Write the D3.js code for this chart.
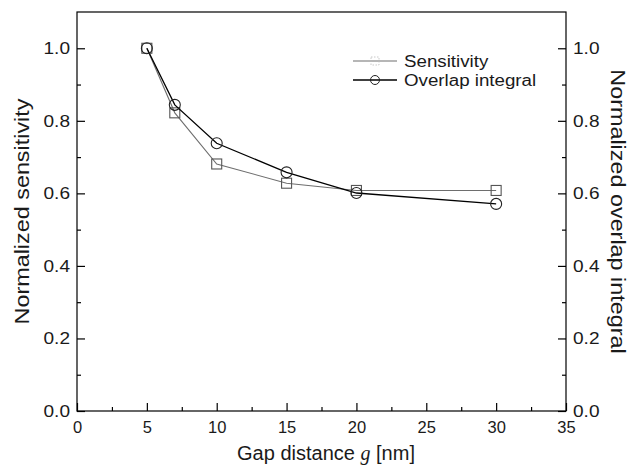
<!DOCTYPE html>
<html>
<head>
<meta charset="utf-8">
<script src="https://cdn.jsdelivr.net/npm/d3@7"></script>
<style>
  body { margin: 0; background: #fff; }
  text { font-family: "Liberation Sans", Arial, sans-serif; fill: #1a1a1a; }
</style>
</head>
<body>
<div id="chart"></div>
<script>
// data
const gaps = [5, 7, 10, 15, 20, 30];
const sensitivity = [1.0, 0.822, 0.681, 0.628, 0.608, 0.608];
const overlap = [1.0, 0.844, 0.738, 0.658, 0.601, 0.571];
const xTicks = [0, 5, 10, 15, 20, 25, 30, 35];
const yTicks = [0.0, 0.2, 0.4, 0.6, 0.8, 1.0];
const seriesNames = ["Sensitivity", "Overlap integral"];

const width = 631, height = 466;
const margin = { top: 12, right: 65, bottom: 55, left: 77 };

const svg = d3.select("#chart").append("svg")
  .attr("width", width)
  .attr("height", height);

const x = d3.scaleLinear().domain([0, 35]).range([margin.left, width - margin.right]);
const y = d3.scaleLinear().domain([0, 1.1]).range([height - margin.bottom, margin.top]);

const plotH = height - margin.bottom - margin.top;
const plotW = width - margin.right - margin.left;

// the original font is a bit wider than Arial, stretch text to fit
function stretch(sel, k) {
  sel.each(function () {
    const len = this.getComputedTextLength();
    d3.select(this).attr("textLength", len * k).attr("lengthAdjust", "spacingAndGlyphs");
  });
}

// frame
svg.append("rect")
  .attr("x", margin.left).attr("y", margin.top)
  .attr("width", plotW).attr("height", plotH)
  .attr("fill", "none").attr("stroke", "#000").attr("stroke-width", 1.2);

function styleAxis(size) {
  return g => {
    g.select(".domain").remove();
    g.selectAll("line").attr("stroke", "#000").attr("stroke-width", 1.2);
    g.selectAll("text")
      .style("font-size", size + "px")
      .style("font-family", "'Liberation Sans', Arial, sans-serif");
  };
}

// minor ticks
const xMinor = d3.range(2.5, 35, 5);
const yMinor = d3.range(0.1, 1.1, 0.2);

// bottom axis, ticks inward
svg.append("g")
  .attr("transform", `translate(0,${height - margin.bottom})`)
  .call(d3.axisBottom(x).tickValues(xMinor).tickSize(-4).tickFormat(""))
  .call(styleAxis(16.5));
svg.append("g")
  .attr("transform", `translate(0,${height - margin.bottom})`)
  .call(d3.axisBottom(x).tickValues(xTicks).tickSize(-8).tickPadding(10.5).tickFormat(d3.format("d")))
  .call(styleAxis(16.5));

// left axis
svg.append("g")
  .attr("transform", `translate(${margin.left},0)`)
  .call(d3.axisLeft(y).tickValues(yMinor).tickSize(-4).tickFormat(""))
  .call(styleAxis(17));
const yLeft = svg.append("g")
  .attr("transform", `translate(${margin.left},0)`)
  .call(d3.axisLeft(y).tickValues(yTicks).tickSize(-8).tickPadding(7).tickFormat(d3.format(".1f")))
  .call(styleAxis(17));
stretch(yLeft.selectAll("text"), 1.12);

// right axis
svg.append("g")
  .attr("transform", `translate(${width - margin.right},0)`)
  .call(d3.axisRight(y).tickValues(yMinor).tickSize(-4).tickFormat(""))
  .call(styleAxis(17));
const yRight = svg.append("g")
  .attr("transform", `translate(${width - margin.right},0)`)
  .call(d3.axisRight(y).tickValues(yTicks).tickSize(-8).tickPadding(7).tickFormat(d3.format(".1f")))
  .call(styleAxis(17));
stretch(yRight.selectAll("text"), 1.12);

// axis titles
const xTitle = svg.append("text")
  .attr("x", 326)
  .attr("y", 460)
  .attr("text-anchor", "middle")
  .style("font-size", "20px");
xTitle.append("tspan").text("Gap distance ");
xTitle.append("tspan").text("g")
  .style("font-family", "'Liberation Serif', 'Times New Roman', serif")
  .style("font-style", "italic");
xTitle.append("tspan").text(" [nm]");

const leftTitle = svg.append("text")
  .attr("transform", `translate(29,${margin.top + plotH / 2}) rotate(-90)`)
  .attr("text-anchor", "middle")
  .style("font-size", "20.5px")
  .text("Normalized sensitivity");
stretch(leftTitle, 1.14);

const rightTitle = svg.append("text")
  .attr("transform", `translate(611,${margin.top + plotH / 2}) rotate(90)`)
  .attr("text-anchor", "middle")
  .style("font-size", "20.5px")
  .text("Normalized overlap integral");
stretch(rightTitle, 1.14);

const sensData = gaps.map((g, i) => ({ g, v: sensitivity[i] }));
const overData = gaps.map((g, i) => ({ g, v: overlap[i] }));

const line = d3.line().x(d => x(d.g)).y(d => y(d.v));

// sensitivity: grey line + squares
svg.append("path").datum(sensData)
  .attr("fill", "none").attr("stroke", "#6e6e6e").attr("stroke-width", 1.1)
  .attr("d", line);
svg.append("g").selectAll("rect").data(sensData).enter().append("rect")
  .attr("x", d => x(d.g) - 5).attr("y", d => y(d.v) - 5)
  .attr("width", 10).attr("height", 10)
  .attr("fill", "none").attr("stroke", "#555").attr("stroke-width", 1.1);

// overlap: black line + circles
svg.append("path").datum(overData)
  .attr("fill", "none").attr("stroke", "#000").attr("stroke-width", 1.3)
  .attr("d", line);
svg.append("g").selectAll("circle").data(overData).enter().append("circle")
  .attr("cx", d => x(d.g)).attr("cy", d => y(d.v)).attr("r", 5.5)
  .attr("fill", "none").attr("stroke", "#222").attr("stroke-width", 1.1);

// legend
const legend = svg.append("g");
const lx0 = 353, lx1 = 397, ly = [61, 80];
legend.append("line")
  .attr("x1", lx0).attr("x2", lx1).attr("y1", ly[0]).attr("y2", ly[0])
  .attr("stroke", "#6e6e6e").attr("stroke-width", 1.1);
legend.append("rect")
  .attr("x", (lx0 + lx1) / 2 - 4).attr("y", ly[0] - 4)
  .attr("width", 8).attr("height", 8)
  .attr("fill", "none").attr("stroke", "#bbb").attr("stroke-width", 0.8)
  .attr("stroke-dasharray", "1.5,1.5");
legend.append("line")
  .attr("x1", lx0).attr("x2", lx1).attr("y1", ly[1]).attr("y2", ly[1])
  .attr("stroke", "#000").attr("stroke-width", 1.3);
legend.append("circle")
  .attr("cx", (lx0 + lx1) / 2).attr("cy", ly[1]).attr("r", 4.5)
  .attr("fill", "none").attr("stroke", "#222").attr("stroke-width", 1);
const legText = legend.selectAll("text.lab").data(seriesNames).enter().append("text")
  .attr("class", "lab")
  .attr("x", 404).attr("y", (d, i) => ly[i] + 6)
  .style("font-size", "16px")
  .text(d => d);
stretch(legText, 1.17);
</script>
</body>
</html>
